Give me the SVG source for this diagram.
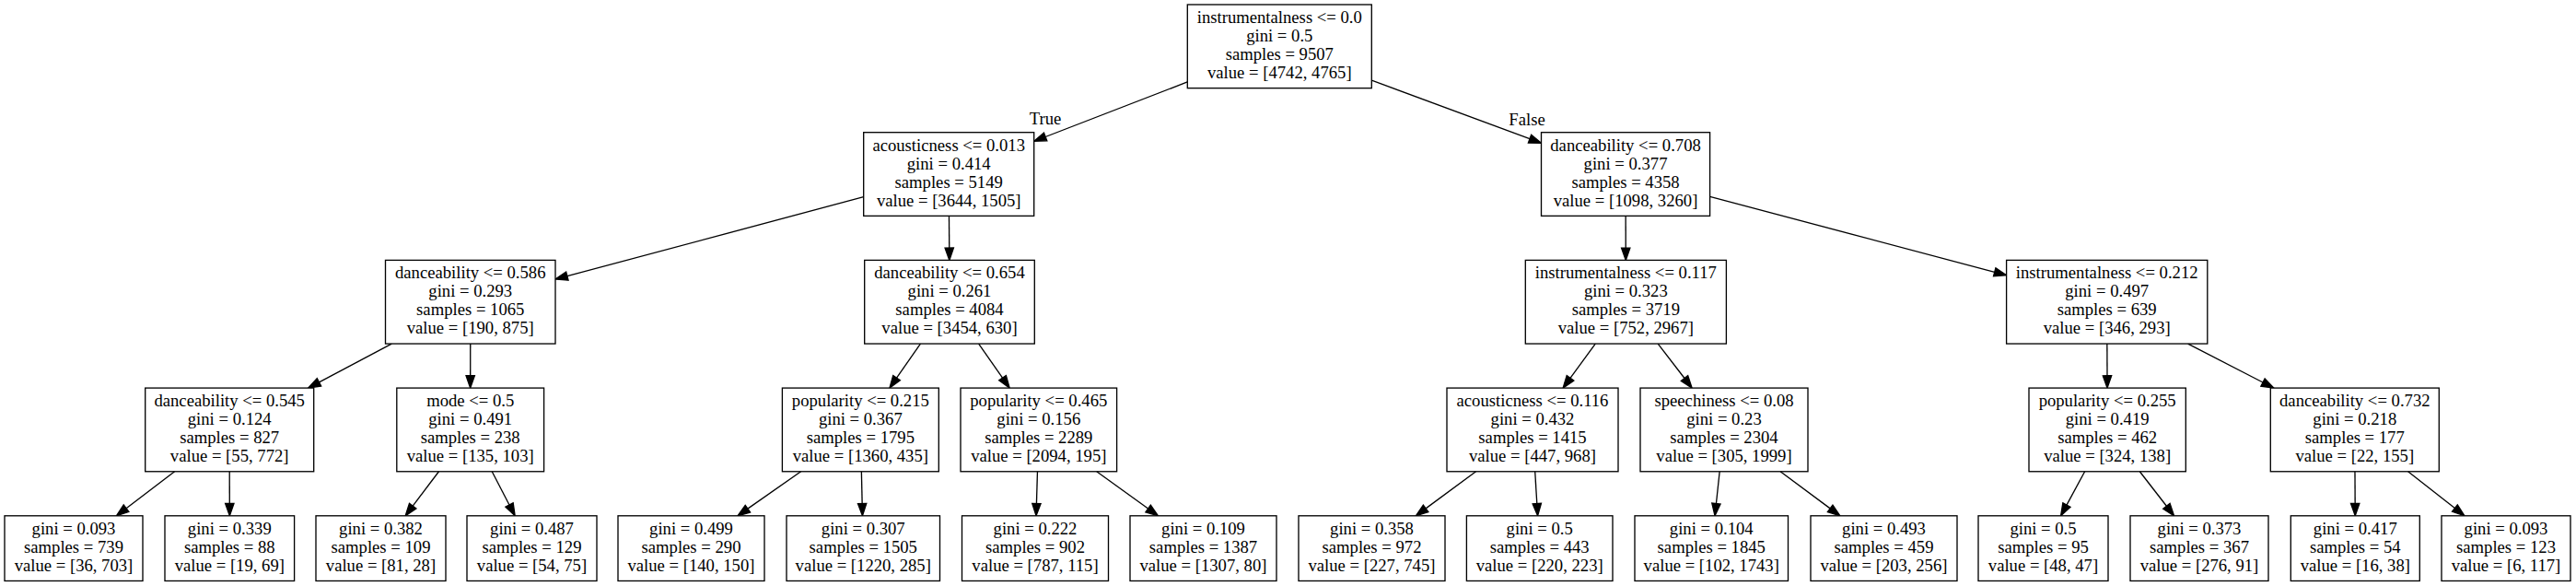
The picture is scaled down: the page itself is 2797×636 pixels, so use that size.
<svg xmlns="http://www.w3.org/2000/svg" width="2797" height="636" viewBox="0 0 2797 636">
<style>
.box{fill:#fff;stroke:#000;stroke-width:1.33}
.t{font-family:"Liberation Serif","Times New Roman",serif;font-size:18.67px;fill:#000;text-anchor:middle}
.e{fill:none;stroke:#000;stroke-width:1.33}
</style>
<defs>
<marker id="ah" markerUnits="userSpaceOnUse" markerWidth="16" markerHeight="12" refX="0" refY="6" orient="auto" overflow="visible">
<path d="M0,1.33 L13.33,6 L0,10.67 Z" fill="#000" stroke="#000" stroke-width="1.33"/>
</marker>
</defs>
<rect x="0" y="0" width="2797" height="636" fill="#fff"/>
<g id="connectors" marker-end="url(#ah)">
<path class="e" d="M1289.3,88.96 L1135.14,148.5"/>
<path class="e" d="M1489.3,87.24 L1661,150.62"/>
<path class="e" d="M937.7,213.73 L615.88,299.66"/>
<path class="e" d="M1030.46,234.36 L1030.74,269.07"/>
<path class="e" d="M1765.15,234.36 L1765.25,269.07"/>
<path class="e" d="M1856.6,213.33 L2165.72,295.36"/>
<path class="e" d="M425.27,373.06 L346.46,414.86"/>
<path class="e" d="M510.75,373.06 L510.7,407.77"/>
<path class="e" d="M999.41,373.06 L973.56,410.16"/>
<path class="e" d="M1062.64,373.06 L1088.53,410.17"/>
<path class="e" d="M1732.23,373.06 L1704.99,410.34"/>
<path class="e" d="M1800.21,373.06 L1829.01,410.53"/>
<path class="e" d="M2287.85,373.06 L2288,407.77"/>
<path class="e" d="M2375.65,373.06 L2457,414.99"/>
<path class="e" d="M189.61,511.76 L137.06,551.73"/>
<path class="e" d="M249.2,511.76 L249.3,546.47"/>
<path class="e" d="M476.47,511.76 L448.21,549.16"/>
<path class="e" d="M534.23,511.76 L553.02,547.97"/>
<path class="e" d="M869.6,511.76 L811.89,552.16"/>
<path class="e" d="M935.37,511.76 L936.15,546.47"/>
<path class="e" d="M1126.46,511.76 L1125.43,546.47"/>
<path class="e" d="M1190.74,511.76 L1246.62,552.01"/>
<path class="e" d="M1602.54,511.76 L1548.13,551.89"/>
<path class="e" d="M1666.71,511.76 L1668.79,546.49"/>
<path class="e" d="M1867.16,511.76 L1863.44,546.55"/>
<path class="e" d="M1933.11,511.76 L1987.16,551.86"/>
<path class="e" d="M2263.62,511.76 L2243.97,548.08"/>
<path class="e" d="M2323.32,511.76 L2352.42,549.27"/>
<path class="e" d="M2556.98,511.76 L2557.16,546.47"/>
<path class="e" d="M2614.63,511.76 L2665.43,551.58"/>
<text class="t" x="1135" y="135">True</text>
<text class="t" x="1658" y="136">False</text>
</g>

<g id="n0"><rect class="box" x="1289.3" y="5" width="200" height="90.67"/>
<text class="t"><tspan x="1389.3" y="25">instrumentalness &lt;= 0.0</tspan><tspan x="1389.3" y="45">gini = 0.5</tspan><tspan x="1389.3" y="65">samples = 9507</tspan><tspan x="1389.3" y="85">value = [4742, 4765]</tspan></text></g>

<g id="n1"><rect class="box" x="937.7" y="143.7" width="185" height="90.67"/>
<text class="t"><tspan x="1030.2" y="163.7">acousticness &lt;= 0.013</tspan><tspan x="1030.2" y="183.7">gini = 0.414</tspan><tspan x="1030.2" y="203.7">samples = 5149</tspan><tspan x="1030.2" y="223.7">value = [3644, 1505]</tspan></text></g>

<g id="n2"><rect class="box" x="1673.5" y="143.7" width="183.1" height="90.67"/>
<text class="t"><tspan x="1765.05" y="163.7">danceability &lt;= 0.708</tspan><tspan x="1765.05" y="183.7">gini = 0.377</tspan><tspan x="1765.05" y="203.7">samples = 4358</tspan><tspan x="1765.05" y="223.7">value = [1098, 3260]</tspan></text></g>

<g id="n3"><rect class="box" x="418.5" y="282.4" width="184.5" height="90.67"/>
<text class="t"><tspan x="510.75" y="302.4">danceability &lt;= 0.586</tspan><tspan x="510.75" y="322.4">gini = 0.293</tspan><tspan x="510.75" y="342.4">samples = 1065</tspan><tspan x="510.75" y="362.4">value = [190, 875]</tspan></text></g>

<g id="n4"><rect class="box" x="938.7" y="282.4" width="184.6" height="90.67"/>
<text class="t"><tspan x="1031" y="302.4">danceability &lt;= 0.654</tspan><tspan x="1031" y="322.4">gini = 0.261</tspan><tspan x="1031" y="342.4">samples = 4084</tspan><tspan x="1031" y="362.4">value = [3454, 630]</tspan></text></g>

<g id="n5"><rect class="box" x="1656.3" y="282.4" width="218.1" height="90.67"/>
<text class="t"><tspan x="1765.35" y="302.4">instrumentalness &lt;= 0.117</tspan><tspan x="1765.35" y="322.4">gini = 0.323</tspan><tspan x="1765.35" y="342.4">samples = 3719</tspan><tspan x="1765.35" y="362.4">value = [752, 2967]</tspan></text></g>

<g id="n6"><rect class="box" x="2178.6" y="282.4" width="218.2" height="90.67"/>
<text class="t"><tspan x="2287.7" y="302.4">instrumentalness &lt;= 0.212</tspan><tspan x="2287.7" y="322.4">gini = 0.497</tspan><tspan x="2287.7" y="342.4">samples = 639</tspan><tspan x="2287.7" y="362.4">value = [346, 293]</tspan></text></g>

<g id="n7"><rect class="box" x="157.7" y="421.1" width="183" height="90.67"/>
<text class="t"><tspan x="249.2" y="441.1">danceability &lt;= 0.545</tspan><tspan x="249.2" y="461.1">gini = 0.124</tspan><tspan x="249.2" y="481.1">samples = 827</tspan><tspan x="249.2" y="501.1">value = [55, 772]</tspan></text></g>

<g id="n8"><rect class="box" x="430.8" y="421.1" width="159.8" height="90.67"/>
<text class="t"><tspan x="510.7" y="441.1">mode &lt;= 0.5</tspan><tspan x="510.7" y="461.1">gini = 0.491</tspan><tspan x="510.7" y="481.1">samples = 238</tspan><tspan x="510.7" y="501.1">value = [135, 103]</tspan></text></g>

<g id="n9"><rect class="box" x="849.4" y="421.1" width="169.9" height="90.67"/>
<text class="t"><tspan x="934.35" y="441.1">popularity &lt;= 0.215</tspan><tspan x="934.35" y="461.1">gini = 0.367</tspan><tspan x="934.35" y="481.1">samples = 1795</tspan><tspan x="934.35" y="501.1">value = [1360, 435]</tspan></text></g>

<g id="n10"><rect class="box" x="1043" y="421.1" width="169.6" height="90.67"/>
<text class="t"><tspan x="1127.8" y="441.1">popularity &lt;= 0.465</tspan><tspan x="1127.8" y="461.1">gini = 0.156</tspan><tspan x="1127.8" y="481.1">samples = 2289</tspan><tspan x="1127.8" y="501.1">value = [2094, 195]</tspan></text></g>

<g id="n11"><rect class="box" x="1571" y="421.1" width="186" height="90.67"/>
<text class="t"><tspan x="1664" y="441.1">acousticness &lt;= 0.116</tspan><tspan x="1664" y="461.1">gini = 0.432</tspan><tspan x="1664" y="481.1">samples = 1415</tspan><tspan x="1664" y="501.1">value = [447, 968]</tspan></text></g>

<g id="n12"><rect class="box" x="1781" y="421.1" width="182" height="90.67"/>
<text class="t"><tspan x="1872" y="441.1">speechiness &lt;= 0.08</tspan><tspan x="1872" y="461.1">gini = 0.23</tspan><tspan x="1872" y="481.1">samples = 2304</tspan><tspan x="1872" y="501.1">value = [305, 1999]</tspan></text></g>

<g id="n13"><rect class="box" x="2203" y="421.1" width="170.3" height="90.67"/>
<text class="t"><tspan x="2288.15" y="441.1">popularity &lt;= 0.255</tspan><tspan x="2288.15" y="461.1">gini = 0.419</tspan><tspan x="2288.15" y="481.1">samples = 462</tspan><tspan x="2288.15" y="501.1">value = [324, 138]</tspan></text></g>

<g id="n14"><rect class="box" x="2465.3" y="421.1" width="183" height="90.67"/>
<text class="t"><tspan x="2556.8" y="441.1">danceability &lt;= 0.732</tspan><tspan x="2556.8" y="461.1">gini = 0.218</tspan><tspan x="2556.8" y="481.1">samples = 177</tspan><tspan x="2556.8" y="501.1">value = [22, 155]</tspan></text></g>

<g id="l1"><rect class="box" x="5" y="559.8" width="150" height="70.67"/>
<text class="t"><tspan x="80" y="579.6">gini = 0.093</tspan><tspan x="80" y="599.6">samples = 739</tspan><tspan x="80" y="619.6">value = [36, 703]</tspan></text></g>
<g id="l2"><rect class="box" x="179" y="559.8" width="140.6" height="70.67"/>
<text class="t"><tspan x="249.3" y="579.6">gini = 0.339</tspan><tspan x="249.3" y="599.6">samples = 88</tspan><tspan x="249.3" y="619.6">value = [19, 69]</tspan></text></g>
<g id="l3"><rect class="box" x="343" y="559.8" width="141" height="70.67"/>
<text class="t"><tspan x="413.5" y="579.6">gini = 0.382</tspan><tspan x="413.5" y="599.6">samples = 109</tspan><tspan x="413.5" y="619.6">value = [81, 28]</tspan></text></g>
<g id="l4"><rect class="box" x="507" y="559.8" width="141" height="70.67"/>
<text class="t"><tspan x="577.5" y="579.6">gini = 0.487</tspan><tspan x="577.5" y="599.6">samples = 129</tspan><tspan x="577.5" y="619.6">value = [54, 75]</tspan></text></g>
<g id="l5"><rect class="box" x="671" y="559.8" width="159" height="70.67"/>
<text class="t"><tspan x="750.5" y="579.6">gini = 0.499</tspan><tspan x="750.5" y="599.6">samples = 290</tspan><tspan x="750.5" y="619.6">value = [140, 150]</tspan></text></g>
<g id="l6"><rect class="box" x="854" y="559.8" width="166.5" height="70.67"/>
<text class="t"><tspan x="937.25" y="579.6">gini = 0.307</tspan><tspan x="937.25" y="599.6">samples = 1505</tspan><tspan x="937.25" y="619.6">value = [1220, 285]</tspan></text></g>
<g id="l7"><rect class="box" x="1044.5" y="559.8" width="159" height="70.67"/>
<text class="t"><tspan x="1124" y="579.6">gini = 0.222</tspan><tspan x="1124" y="599.6">samples = 902</tspan><tspan x="1124" y="619.6">value = [787, 115]</tspan></text></g>
<g id="l8"><rect class="box" x="1227" y="559.8" width="159" height="70.67"/>
<text class="t"><tspan x="1306.5" y="579.6">gini = 0.109</tspan><tspan x="1306.5" y="599.6">samples = 1387</tspan><tspan x="1306.5" y="619.6">value = [1307, 80]</tspan></text></g>
<g id="l9"><rect class="box" x="1410" y="559.8" width="159" height="70.67"/>
<text class="t"><tspan x="1489.5" y="579.6">gini = 0.358</tspan><tspan x="1489.5" y="599.6">samples = 972</tspan><tspan x="1489.5" y="619.6">value = [227, 745]</tspan></text></g>
<g id="l10"><rect class="box" x="1592.4" y="559.8" width="158.6" height="70.67"/>
<text class="t"><tspan x="1671.7" y="579.6">gini = 0.5</tspan><tspan x="1671.7" y="599.6">samples = 443</tspan><tspan x="1671.7" y="619.6">value = [220, 223]</tspan></text></g>
<g id="l11"><rect class="box" x="1775" y="559.8" width="166.5" height="70.67"/>
<text class="t"><tspan x="1858.25" y="579.6">gini = 0.104</tspan><tspan x="1858.25" y="599.6">samples = 1845</tspan><tspan x="1858.25" y="619.6">value = [102, 1743]</tspan></text></g>
<g id="l12"><rect class="box" x="1966" y="559.8" width="159" height="70.67"/>
<text class="t"><tspan x="2045.5" y="579.6">gini = 0.493</tspan><tspan x="2045.5" y="599.6">samples = 459</tspan><tspan x="2045.5" y="619.6">value = [203, 256]</tspan></text></g>
<g id="l13"><rect class="box" x="2148" y="559.8" width="141" height="70.67"/>
<text class="t"><tspan x="2218.5" y="579.6">gini = 0.5</tspan><tspan x="2218.5" y="599.6">samples = 95</tspan><tspan x="2218.5" y="619.6">value = [48, 47]</tspan></text></g>
<g id="l14"><rect class="box" x="2313" y="559.8" width="150" height="70.67"/>
<text class="t"><tspan x="2388" y="579.6">gini = 0.373</tspan><tspan x="2388" y="599.6">samples = 367</tspan><tspan x="2388" y="619.6">value = [276, 91]</tspan></text></g>
<g id="l15"><rect class="box" x="2487.3" y="559.8" width="140" height="70.67"/>
<text class="t"><tspan x="2557.3" y="579.6">gini = 0.417</tspan><tspan x="2557.3" y="599.6">samples = 54</tspan><tspan x="2557.3" y="619.6">value = [16, 38]</tspan></text></g>
<g id="l16"><rect class="box" x="2651" y="559.8" width="140" height="70.67"/>
<text class="t"><tspan x="2721" y="579.6">gini = 0.093</tspan><tspan x="2721" y="599.6">samples = 123</tspan><tspan x="2721" y="619.6">value = [6, 117]</tspan></text></g>
</svg>
